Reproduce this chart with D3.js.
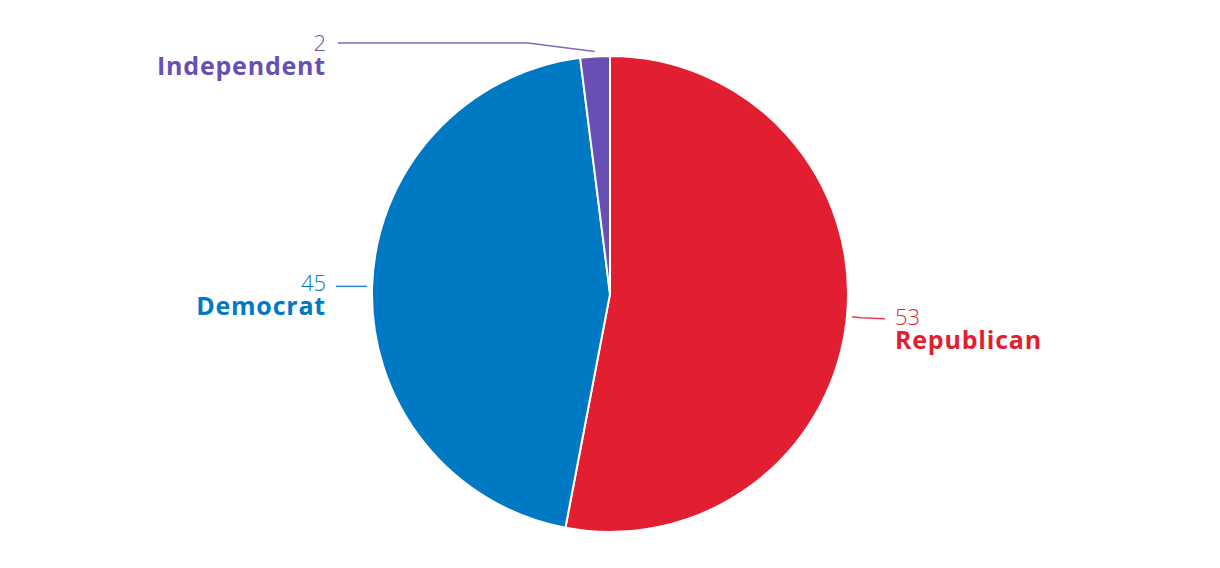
<!DOCTYPE html>
<html>
<head>
<meta charset="utf-8">
<script src="https://d3js.org/d3.v7.min.js"></script>
<style>
  body { margin: 0; background: #fff; }
  text { font-family: "Open Sans", "Noto Sans", sans-serif; }
</style>
</head>
<body>
<svg width="1220" height="568"></svg>
<script>
// data
var parties = ["Republican", "Democrat", "Independent"];
var seats = [53, 45, 2];
var colors = ["#e21f31", "#0079c5", "#684fb4"];

// label layout (x of text, y of number baseline, side)
var labelX = [895, 326, 326];
var labelY = [325, 291, 51];
var anchor = ["start", "end", "end"];

var svg = d3.select("svg"),
    cx = 610, cy = 294, r = 238;

var pie = d3.pie().sort(null).value(function(d) { return d; });
var arcs = pie(seats);

var arc = d3.arc().innerRadius(0).outerRadius(r);

var g = svg.append("g").attr("transform", "translate(" + cx + "," + cy + ")");

g.selectAll("path.slice")
  .data(arcs)
  .enter().append("path")
  .attr("class", "slice")
  .attr("d", arc)
  .attr("fill", function(d, i) { return colors[i]; })
  .attr("stroke", "#fff")
  .attr("stroke-width", 2);

function polar(a, rad) {
  return [cx + rad * Math.sin(a), cy - rad * Math.cos(a)];
}

arcs.forEach(function(d, i) {
  var mid = (d.startAngle + d.endAngle) / 2;
  var p0 = polar(mid, r + 5);
  var pts;
  if (i == 2) {
    // independent: elbow up to the label row
    pts = [p0, [528, labelY[i] - 8], [labelX[i] + 12, labelY[i] - 8]];
  } else if (anchor[i] == "start") {
    var p1 = polar(mid, r + 14);
    pts = [p0, p1, [labelX[i] - 10, p1[1] + 1]];
  } else {
    var p1 = polar(mid, r + 5);
    pts = [p1, [labelX[i] + 10, p1[1]]];
  }
  svg.append("path")
    .attr("d", d3.line()(pts))
    .attr("fill", "none")
    .attr("stroke", colors[i])
    .attr("stroke-opacity", 0.85)
    .attr("stroke-width", 1.5);

  svg.append("text")
    .attr("x", labelX[i])
    .attr("y", labelY[i])
    .attr("text-anchor", anchor[i])
    .attr("fill", colors[i])
    .style("font-size", "22px")
    .style("font-weight", 300)
    .text(seats[i]);

  svg.append("text")
    .attr("x", labelX[i])
    .attr("y", labelY[i] + 24)
    .attr("text-anchor", anchor[i])
    .attr("fill", colors[i])
    .style("font-size", "25px")
    .style("font-weight", 700)
    .style("letter-spacing", "0.8px")
    .text(parties[i]);
});
</script>
</body>
</html>
